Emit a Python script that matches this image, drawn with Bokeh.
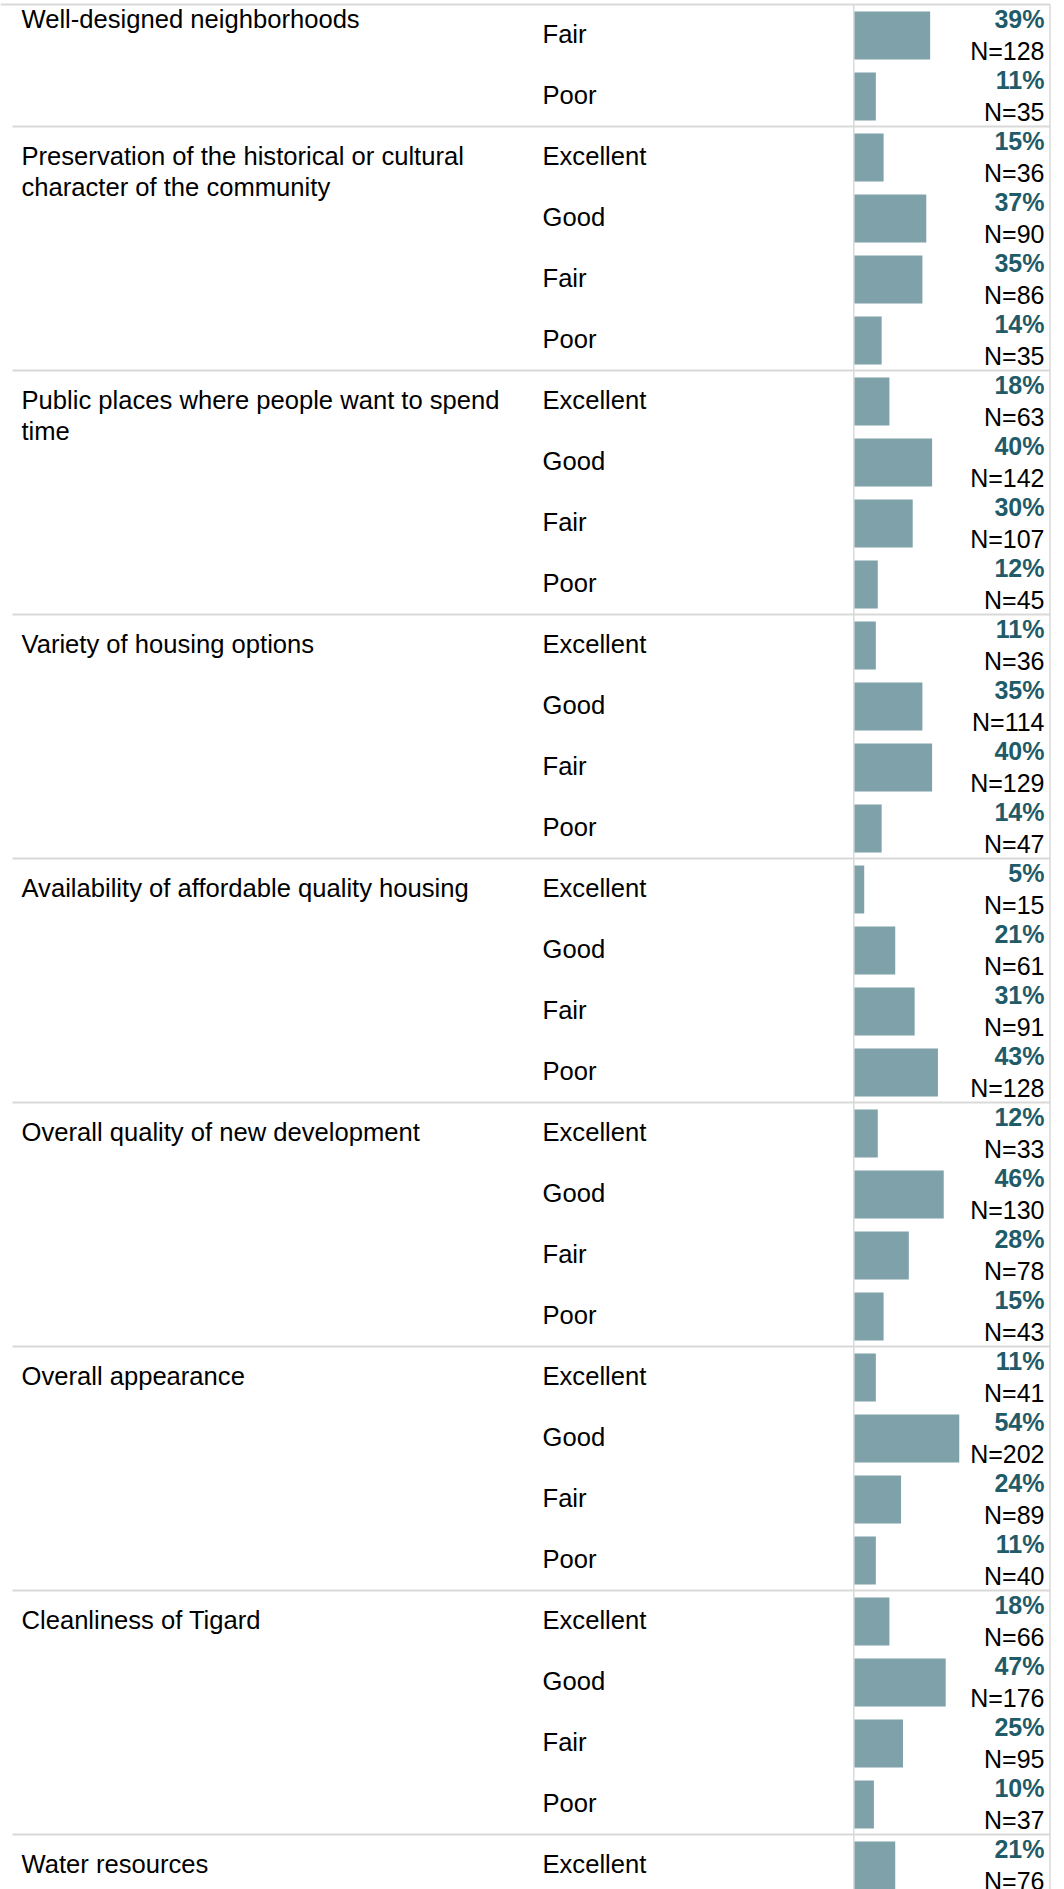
from bokeh.plotting import figure
from bokeh.models import Range1d, ColumnDataSource
from bokeh.core.properties import value
from bokeh.embed import file_html
from bokeh.resources import INLINE

# ---------------- data ----------------
groups = [
    "Well-designed neighborhoods",
    "Preservation of the historical or cultural\ncharacter of the community",
    "Public places where people want to spend\ntime",
    "Variety of housing options",
    "Availability of affordable quality housing",
    "Overall quality of new development",
    "Overall appearance",
    "Cleanliness of Tigard",
    "Water resources",
]
ratings = [
    ["Fair", "Poor"],
    ["Excellent", "Good", "Fair", "Poor"],
    ["Excellent", "Good", "Fair", "Poor"],
    ["Excellent", "Good", "Fair", "Poor"],
    ["Excellent", "Good", "Fair", "Poor"],
    ["Excellent", "Good", "Fair", "Poor"],
    ["Excellent", "Good", "Fair", "Poor"],
    ["Excellent", "Good", "Fair", "Poor"],
    ["Excellent"],
]
percents = [
    [39, 11],
    [15, 37, 35, 14],
    [18, 40, 30, 12],
    [11, 35, 40, 14],
    [5, 21, 31, 43],
    [12, 46, 28, 15],
    [11, 54, 24, 11],
    [18, 47, 25, 10],
    [21],
]
counts = [
    [128, 35],
    [36, 90, 86, 35],
    [63, 142, 107, 45],
    [36, 114, 129, 47],
    [15, 61, 91, 128],
    [33, 130, 78, 43],
    [41, 202, 89, 40],
    [66, 176, 95, 37],
    [76],
]

# ---------------- styling / layout ----------------
FONT = value("Liberation Sans")
FS_LABEL = "25.6px"
FS_NUM = "25px"
BAR_COLOR = "#7fa2aa"
PCT_COLOR = "#1f5b69"
LINE_COLOR = "#d9d9d9"
PX_PER_PCT = 1.94
BAR_X0 = 854          # screen x of the bar baseline
ROW_PX = 61.0
TOP_PX = 4.0
SHIFT = 9.5           # baseline correction for the renderer

W, H = 1064, 1889
p = figure(
    width=W, height=H, output_backend="svg", toolbar_location=None,
    x_range=Range1d(0, W),
    y_range=Range1d((H - TOP_PX) / ROW_PX, (0 - TOP_PX) / ROW_PX),
    x_axis_location=None, y_axis_location=None, min_border=0,
)
p.extra_x_ranges = {"pct": Range1d((0 - BAR_X0) / PX_PER_PCT, (W - BAR_X0) / PX_PER_PCT)}
p.grid.visible = False
p.outline_line_color = None
p.background_fill_color = "white"
p.border_fill_color = "white"

# flatten rows
row_y, cat_lab, pct_vals, pct_lab, n_lab = [], [], [], [], []
glab_x, glab_y, glab_t = [], [], []
sep_y = []
r = 0
for gi, g in enumerate(groups):
    first = r
    for c, pc, n in zip(ratings[gi], percents[gi], counts[gi]):
        row_y.append(r)
        cat_lab.append(c)
        pct_vals.append(pc)
        pct_lab.append(f"{pc}%")
        n_lab.append(f"N={n}")
        r += 1
    base = first + ((24 if gi == 0 else 39) - SHIFT) / ROW_PX
    for li, line in enumerate(g.split("\n")):
        glab_x.append(21)
        glab_y.append(base + li * 30.5 / ROW_PX)
        glab_t.append(line)
    if gi > 0:
        sep_y.append(first)
n_rows = r

src = ColumnDataSource(dict(
    row=row_y,
    bar_y=[y + 31 / ROW_PX for y in row_y],
    cat_y=[y + (39 - SHIFT) / ROW_PX for y in row_y],
    pct_y=[y + (24 - SHIFT) / ROW_PX for y in row_y],
    n_y=[y + (55.5 - SHIFT) / ROW_PX for y in row_y],
    cat=cat_lab, pct=pct_vals, pct_lab=pct_lab, n_lab=n_lab,
))

# grid lines of the table
p.segment(x0=12, x1=1049.5, y0=sep_y, y1=sep_y, line_color=LINE_COLOR, line_width=2)
p.segment(x0=[853.3], x1=[853.3], y0=[0], y1=[n_rows + 1], line_color=LINE_COLOR, line_width=1.5)
p.segment(x0=[1049.5], x1=[1049.5], y0=[0], y1=[n_rows + 1], line_color=LINE_COLOR, line_width=1.5)
p.segment(x0=[0], x1=[1049.5], y0=[0], y1=[0], line_color=LINE_COLOR, line_width=2)

# bars
p.hbar(y="bar_y", left=0, right="pct", height=48 / ROW_PX, source=src,
       x_range_name="pct", fill_color=BAR_COLOR, line_color=None)

# texts
p.text(x=glab_x, y=glab_y, text=glab_t, text_font=FONT, text_font_size=FS_LABEL,
       text_color="black", text_align="left", text_baseline="alphabetic")
p.text(x=542, y="cat_y", text="cat", source=src, text_font=FONT, text_font_size=FS_LABEL,
       text_color="black", text_align="left", text_baseline="alphabetic")
p.text(x=1044, y="pct_y", text="pct_lab", source=src, text_font=FONT, text_font_size=FS_NUM,
       text_font_style="bold", text_color=PCT_COLOR, text_align="right",
       text_baseline="alphabetic")
p.text(x=1044, y="n_y", text="n_lab", source=src, text_font=FONT, text_font_size=FS_NUM,
       text_color="black", text_align="right", text_baseline="alphabetic")

open("out.html", "w").write(file_html(p, INLINE))
